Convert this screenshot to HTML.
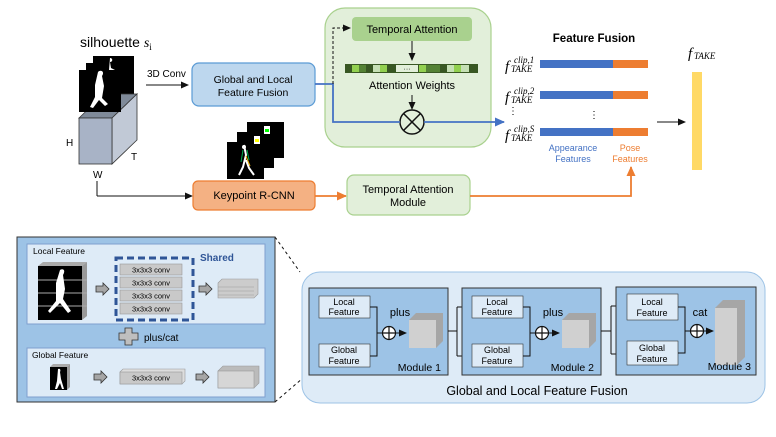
<!DOCTYPE html>
<html><head><meta charset="utf-8"><style>
html,body{margin:0;padding:0;background:#fff}
svg{display:block;font-family:"Liberation Sans",sans-serif}
</style></head><body>
<svg width="776" height="437" viewBox="0 0 776 437" xmlns="http://www.w3.org/2000/svg">
<defs>
<marker id="ak" markerWidth="8" markerHeight="8" refX="7" refY="4" orient="auto" markerUnits="userSpaceOnUse"><path d="M0,0.5 L8,4 L0,7.5z" fill="#111"/></marker>
<marker id="ab" markerWidth="10" markerHeight="10" refX="9" refY="5" orient="auto" markerUnits="userSpaceOnUse"><path d="M0,0.5 L10,5 L0,9.5z" fill="#4472c4"/></marker>
<marker id="ao" markerWidth="10" markerHeight="10" refX="9" refY="5" orient="auto" markerUnits="userSpaceOnUse"><path d="M0,0.5 L10,5 L0,9.5z" fill="#ed7d31"/></marker>
<g id="garr"><path d="M0,-3 H7 V-6 L13,0 L7,6 V3 H0z" fill="#a6a6a6" stroke="#333" stroke-width="0.8"/></g>
</defs>

<!-- silhouette -->
<text x="80" y="47" font-size="14">silhouette <tspan font-family="Liberation Serif" font-style="italic">s</tspan><tspan font-size="9" dy="3" font-family="Liberation Serif">i</tspan></text>
<rect x="93" y="56" width="41" height="40" fill="#000"/>
<rect x="86" y="63" width="41" height="40" fill="#000"/>
<rect x="79" y="70" width="42" height="42" fill="#000"/>
<path d="M110,58 c3,0 3,4 0,4 l1,6 l4,2 l-6,0z" fill="#fff"/>
<!-- cube -->
<path d="M79,118 L104,94 L137,94 L112,118z" fill="#7f8a99" stroke="#333" stroke-width="0.8"/>
<path d="M112,118 L137,94 L137,140 L112,164z" fill="#c1c9d6" stroke="#333" stroke-width="0.8"/>
<rect x="79" y="118" width="33" height="46" fill="#a8b3c6" stroke="#333" stroke-width="0.8"/>
<rect x="79" y="70" width="42" height="42" fill="#000"/>
<path d="M98,72 c3,-3 7,0 4,4 l2,10 l-2,12 l6,6 l-3,2 l-6,-6 l-6,8 l-3,-1 l5,-10 l0,-12 z" fill="#fff"/>
<text x="66" y="146" font-size="10">H</text>
<text x="131" y="160" font-size="10">T</text>
<text x="93" y="178" font-size="10">W</text>

<text x="147" y="77" font-size="10">3D Conv</text>
<line x1="146" y1="85" x2="188" y2="85" stroke="#111" stroke-width="1" marker-end="url(#ak)"/>
<rect x="192" y="63" width="123" height="43" rx="7" fill="#bdd7ee" stroke="#5b9bd5" stroke-width="1.2"/>
<text x="253" y="83" font-size="10.5" text-anchor="middle">Global and Local</text>
<text x="253" y="96" font-size="10.5" text-anchor="middle">Feature Fusion</text>

<!-- green attention box -->
<rect x="325" y="8" width="166" height="139" rx="20" fill="#e2efda" stroke="#a9d18e" stroke-width="1.2"/>
<rect x="352" y="17" width="120" height="24" rx="4" fill="#a9d18e"/>
<text x="412" y="33" font-size="11" text-anchor="middle">Temporal Attention</text>
<line x1="412" y1="41" x2="412" y2="60" stroke="#111" stroke-width="1" marker-end="url(#ak)"/>
<g stroke="none">
<rect x="345" y="64" width="133" height="9" fill="#385723"/>
<rect x="352" y="65" width="7" height="7" fill="#92d050"/>
<rect x="359" y="65" width="7" height="7" fill="#548235"/>
<rect x="366" y="65" width="7" height="7" fill="#385723"/>
<rect x="373" y="65" width="7" height="7" fill="#c5e0b4"/>
<rect x="380" y="65" width="7" height="7" fill="#92d050"/>
<rect x="387" y="65" width="7" height="7" fill="#385723"/>
<rect x="396" y="65" width="22" height="7" fill="#e2efda"/>
<text x="407" y="71" font-size="7" text-anchor="middle">···</text>
<rect x="419" y="65" width="7" height="7" fill="#92d050"/>
<rect x="426" y="65" width="7" height="7" fill="#548235"/>
<rect x="433" y="65" width="7" height="7" fill="#548235"/>
<rect x="440" y="65" width="7" height="7" fill="#385723"/>
<rect x="447" y="65" width="7" height="7" fill="#c5e0b4"/>
<rect x="454" y="65" width="7" height="7" fill="#92d050"/>
<rect x="461" y="65" width="8" height="7" fill="#c5e0b4"/>
</g>
<text x="412" y="89" font-size="11" text-anchor="middle">Attention Weights</text>
<line x1="412" y1="95" x2="412" y2="109" stroke="#111" stroke-width="1" marker-end="url(#ak)"/>
<circle cx="412" cy="122" r="12" fill="none" stroke="#111" stroke-width="1.5"/>
<line x1="403.5" y1="113.5" x2="420.5" y2="130.5" stroke="#111" stroke-width="1.5"/>
<line x1="420.5" y1="113.5" x2="403.5" y2="130.5" stroke="#111" stroke-width="1.5"/>
<polyline points="315,84 333,84 333,122 400,122" fill="none" stroke="#4472c4" stroke-width="1.8"/>
<line x1="424" y1="122" x2="504" y2="122" stroke="#4472c4" stroke-width="1.8" marker-end="url(#ab)"/>
<polyline points="333,84 333,28 350,28" fill="none" stroke="#111" stroke-width="1" stroke-dasharray="3,2" marker-end="url(#ak)"/>

<!-- feature fusion -->
<text x="594" y="42" font-size="11.5" font-weight="bold" text-anchor="middle">Feature Fusion</text>
<g font-family="Liberation Serif" font-style="italic">
<text x="505" y="71" font-size="15">f</text><text x="511" y="72" font-size="9">TAKE</text><text x="514" y="63" font-size="9">clip,1</text>
<text x="505" y="102" font-size="15">f</text><text x="511" y="103" font-size="9">TAKE</text><text x="514" y="94" font-size="9">clip,2</text>
<text x="505" y="140" font-size="15">f</text><text x="511" y="141" font-size="9">TAKE</text><text x="514" y="132" font-size="9">clip,S</text>
<text x="688" y="58" font-size="15">f</text><text x="694" y="59" font-size="9">TAKE</text>
</g>
<rect x="540" y="60" width="73" height="8" fill="#4472c4"/><rect x="613" y="60" width="35" height="8" fill="#ed7d31"/>
<rect x="540" y="91" width="73" height="8" fill="#4472c4"/><rect x="613" y="91" width="35" height="8" fill="#ed7d31"/>
<rect x="540" y="128" width="73" height="8" fill="#4472c4"/><rect x="613" y="128" width="35" height="8" fill="#ed7d31"/>
<text x="513" y="114" font-size="10" text-anchor="middle">⋮</text>
<text x="594" y="118" font-size="10" text-anchor="middle">⋮</text>
<text x="573" y="151" font-size="9" fill="#4472c4" text-anchor="middle">Appearance</text>
<text x="573" y="162" font-size="9" fill="#4472c4" text-anchor="middle">Features</text>
<text x="630" y="151" font-size="9" fill="#ed7d31" text-anchor="middle">Pose</text>
<text x="630" y="162" font-size="9" fill="#ed7d31" text-anchor="middle">Features</text>
<line x1="657" y1="122" x2="685" y2="122" stroke="#111" stroke-width="1" marker-end="url(#ak)"/>
<rect x="692" y="72" width="10" height="98" fill="#ffd966"/>

<!-- keypoint -->
<rect x="247" y="122" width="37" height="36" fill="#000"/>
<rect x="237" y="132" width="37" height="36" fill="#000"/>
<rect x="227" y="142" width="37" height="37" fill="#000"/>
<path d="M244,145 l2,10 l-3,12 l-4,8 M246,160 l3,8 l5,7" fill="none" stroke="#fff" stroke-width="2"/>
<path d="M243,150 l-2,12 M247,150 l2,10" stroke="#00b050" stroke-width="1"/>
<path d="M246,156 l4,10" stroke="#ffc000" stroke-width="1"/>
<circle cx="244" cy="147" r="2" fill="#fff"/>
<rect x="254" y="136" width="6" height="8" fill="#fff"/><rect x="264" y="126" width="6" height="8" fill="#fff"/>
<rect x="255" y="139" width="4" height="3" fill="#ff0"/><rect x="265" y="129" width="4" height="3" fill="#0f0"/>
<line x1="97" y1="181" x2="97" y2="196" stroke="#111" stroke-width="1"/>
<line x1="97" y1="196" x2="192" y2="196" stroke="#111" stroke-width="1" marker-end="url(#ak)"/>
<rect x="193" y="181" width="122" height="29" rx="5" fill="#f4b183" stroke="#ed7d31" stroke-width="1.2"/>
<text x="254" y="199" font-size="11" text-anchor="middle">Keypoint R-CNN</text>
<line x1="315" y1="196" x2="346" y2="196" stroke="#ed7d31" stroke-width="1.8" marker-end="url(#ao)"/>
<rect x="347" y="175" width="123" height="40" rx="7" fill="#e2efda" stroke="#a9d18e" stroke-width="1.2"/>
<text x="408" y="193" font-size="11" text-anchor="middle">Temporal Attention</text>
<text x="408" y="206" font-size="11" text-anchor="middle">Module</text>
<polyline points="470,196 631,196 631,167" fill="none" stroke="#ed7d31" stroke-width="1.8" marker-end="url(#ao)"/>

<!-- bottom left -->
<line x1="275" y1="237" x2="300" y2="272" stroke="#111" stroke-dasharray="3,3"/>
<line x1="275" y1="402" x2="303" y2="378" stroke="#111" stroke-dasharray="3,3"/>
<rect x="17" y="237" width="258" height="165" fill="#9dc3e6" stroke="#333" stroke-width="1"/>
<rect x="27" y="244" width="238" height="80" fill="#deebf7" stroke="#7f9fcf" stroke-width="1"/>
<text x="33" y="254" font-size="8.5">Local Feature</text>
<path d="M82,266 l5,-4 v54 l-5,4z" fill="#999"/>
<rect x="38" y="266" width="44" height="54" fill="#000"/>
<path d="M38,266 l5,-4 h44 l-5,4z" fill="#aaa"/>
<line x1="38" y1="280" x2="87" y2="280" stroke="#aaa"/><line x1="38" y1="293" x2="87" y2="293" stroke="#aaa"/><line x1="38" y1="306" x2="87" y2="306" stroke="#aaa"/>
<path d="M60,270 c3,-2 6,0 3,5 l2,14 l-2,10 l8,12 l-3,2 l-8,-10 l-10,10 l-2,-2 l8,-10 l0,-18z" fill="#fff"/>
<use href="#garr" x="96" y="289"/>
<rect x="116" y="258" width="77" height="62" fill="none" stroke="#2f5597" stroke-width="3" stroke-dasharray="7,4"/>
<g font-size="7.5" text-anchor="middle">
<rect x="120" y="264" width="62" height="11" fill="#c9c9c9" stroke="#999" stroke-width="0.6"/><text x="151" y="272.5">3x3x3 conv</text>
<rect x="120" y="277" width="62" height="11" fill="#c9c9c9" stroke="#999" stroke-width="0.6"/><text x="151" y="285.5">3x3x3 conv</text>
<rect x="120" y="290" width="62" height="11" fill="#c9c9c9" stroke="#999" stroke-width="0.6"/><text x="151" y="298.5">3x3x3 conv</text>
<rect x="120" y="303" width="62" height="11" fill="#c9c9c9" stroke="#999" stroke-width="0.6"/><text x="151" y="311.5">3x3x3 conv</text>
</g>
<text x="200" y="261" font-size="10" font-weight="bold" fill="#2f5597">Shared</text>
<use href="#garr" x="199" y="289"/>
<path d="M218,283 l4,-4 h36 v15 l-4,4 h-36z" fill="#ccc" stroke="#999" stroke-width="0.6"/>
<line x1="218" y1="287" x2="254" y2="287" stroke="#999" stroke-width="0.6"/><line x1="218" y1="291" x2="254" y2="291" stroke="#999" stroke-width="0.6"/><line x1="218" y1="295" x2="254" y2="295" stroke="#999" stroke-width="0.6"/>
<path d="M119,333 h6 v-5 h7 v5 h6 v7 h-6 v5 h-7 v-5 h-6z" fill="#bfbfbf" stroke="#333" stroke-width="0.8"/>
<text x="144" y="341" font-size="10">plus/cat</text>
<rect x="27" y="348" width="238" height="49" fill="#deebf7" stroke="#7f9fcf" stroke-width="1"/>
<text x="32" y="358" font-size="8.5">Global Feature</text>
<path d="M67,367 l3,-3 v23 l-3,3z" fill="#999"/>
<rect x="50" y="367" width="17" height="23" fill="#000"/>
<path d="M50,367 l3,-3 h17 l-3,3z" fill="#aaa"/>
<path d="M58,369 c2,-1 3,1 2,3 l1,7 l3,10 l-2,0 l-2,-6 l-3,6 l-2,0 l2,-8z" fill="#fff"/>
<use href="#garr" x="94" y="377"/>
<path d="M120,372 l3,-3 h62 v12 l-3,3 h-62z" fill="#ddd" stroke="#999" stroke-width="0.6"/>
<rect x="120" y="372" width="62" height="12" fill="#c9c9c9" stroke="#999" stroke-width="0.6"/>
<text x="151" y="380.5" font-size="7.5" text-anchor="middle">3x3x3 conv</text>
<use href="#garr" x="196" y="377"/>
<path d="M218,371 l5,-5 h36 v17 l-5,5 h-36z" fill="#bbb" stroke="#999" stroke-width="0.6"/>
<rect x="218" y="371" width="36" height="17" fill="#d6d6d6" stroke="#999" stroke-width="0.6"/>

<!-- bottom right -->
<rect x="302" y="272" width="463" height="131" rx="18" fill="#deebf7" stroke="#9dc3e6" stroke-width="1"/>
<text x="537" y="395" font-size="12.5" text-anchor="middle">Global and Local Feature Fusion</text>
<g font-size="9" text-anchor="middle">
<rect x="309" y="288" width="139" height="87" fill="#9dc3e6" stroke="#333" stroke-width="1"/>
<rect x="319" y="296" width="51" height="22" fill="#deebf7" stroke="#333" stroke-width="0.6"/><text x="344" y="305">Local</text><text x="344" y="315">Feature</text>
<rect x="319" y="344" width="51" height="23" fill="#deebf7" stroke="#333" stroke-width="0.6"/><text x="344" y="353">Global</text><text x="344" y="364">Feature</text>
<polyline points="370,307 377,307 377,333 382,333" fill="none" stroke="#111"/>
<polyline points="370,356 377,356 377,333" fill="none" stroke="#111"/>
<circle cx="389" cy="333" r="6.5" fill="#fff" stroke="#111" stroke-width="1.2"/><path d="M382.5,333h13M389,326.5v13" stroke="#111" stroke-width="1.2"/>
<line x1="395.5" y1="333" x2="406" y2="333" stroke="#111" marker-end="url(#ak)"/>
<text x="400" y="316" font-size="11">plus</text>
<path d="M409,320 l7,-7 h27 v28 l-7,7z" fill="#a6a6a6"/><rect x="409" y="320" width="27" height="28" fill="#d0d0d0"/>
<text x="441" y="371" font-size="10.5" text-anchor="end">Module 1</text>
<line x1="448" y1="331" x2="457" y2="331" stroke="#111"/>
<polyline points="457,307 457,356" fill="none" stroke="#111"/>
<line x1="457" y1="307" x2="471" y2="307" stroke="#111" marker-end="url(#ak)"/>
<line x1="457" y1="356" x2="471" y2="356" stroke="#111" marker-end="url(#ak)"/>
<rect x="462" y="288" width="139" height="87" fill="#9dc3e6" stroke="#333" stroke-width="1"/>
<rect x="472" y="296" width="51" height="22" fill="#deebf7" stroke="#333" stroke-width="0.6"/><text x="497" y="305">Local</text><text x="497" y="315">Feature</text>
<rect x="472" y="344" width="51" height="23" fill="#deebf7" stroke="#333" stroke-width="0.6"/><text x="497" y="353">Global</text><text x="497" y="364">Feature</text>
<polyline points="523,307 530,307 530,333 535,333" fill="none" stroke="#111"/>
<polyline points="523,356 530,356 530,333" fill="none" stroke="#111"/>
<circle cx="542" cy="333" r="6.5" fill="#fff" stroke="#111" stroke-width="1.2"/><path d="M535.5,333h13M542,326.5v13" stroke="#111" stroke-width="1.2"/>
<line x1="548.5" y1="333" x2="559" y2="333" stroke="#111" marker-end="url(#ak)"/>
<text x="553" y="316" font-size="11">plus</text>
<path d="M562,320 l7,-7 h27 v28 l-7,7z" fill="#a6a6a6"/><rect x="562" y="320" width="27" height="28" fill="#d0d0d0"/>
<text x="594" y="371" font-size="10.5" text-anchor="end">Module 2</text>
<line x1="601" y1="331" x2="611" y2="331" stroke="#111"/>
<polyline points="611,306 611,354" fill="none" stroke="#111"/>
<line x1="611" y1="306" x2="626" y2="306" stroke="#111" marker-end="url(#ak)"/>
<line x1="611" y1="354" x2="626" y2="354" stroke="#111" marker-end="url(#ak)"/>
<rect x="616" y="287" width="140" height="88" fill="#9dc3e6" stroke="#333" stroke-width="1"/>
<rect x="627" y="294" width="51" height="26" fill="#deebf7" stroke="#333" stroke-width="0.6"/><text x="652" y="305">Local</text><text x="652" y="316">Feature</text>
<rect x="627" y="341" width="51" height="24" fill="#deebf7" stroke="#333" stroke-width="0.6"/><text x="652" y="351">Global</text><text x="652" y="362">Feature</text>
<polyline points="678,307 685,307 685,331 690,331" fill="none" stroke="#111"/>
<polyline points="678,353 685,353 685,331" fill="none" stroke="#111"/>
<circle cx="697" cy="331" r="6.5" fill="#fff" stroke="#111" stroke-width="1.2"/><path d="M690.5,331h13M697,324.5v13" stroke="#111" stroke-width="1.2"/>
<line x1="703.5" y1="331" x2="713" y2="331" stroke="#111" marker-end="url(#ak)"/>
<text x="700" y="316" font-size="11">cat</text>
<path d="M715,308 l8,-8 h22 v57 l-8,8z" fill="#a6a6a6"/><rect x="715" y="308" width="22" height="57" fill="#d0d0d0"/>
<text x="751" y="370" font-size="10.5" text-anchor="end">Module 3</text>
</g>
</svg>
</body></html>
